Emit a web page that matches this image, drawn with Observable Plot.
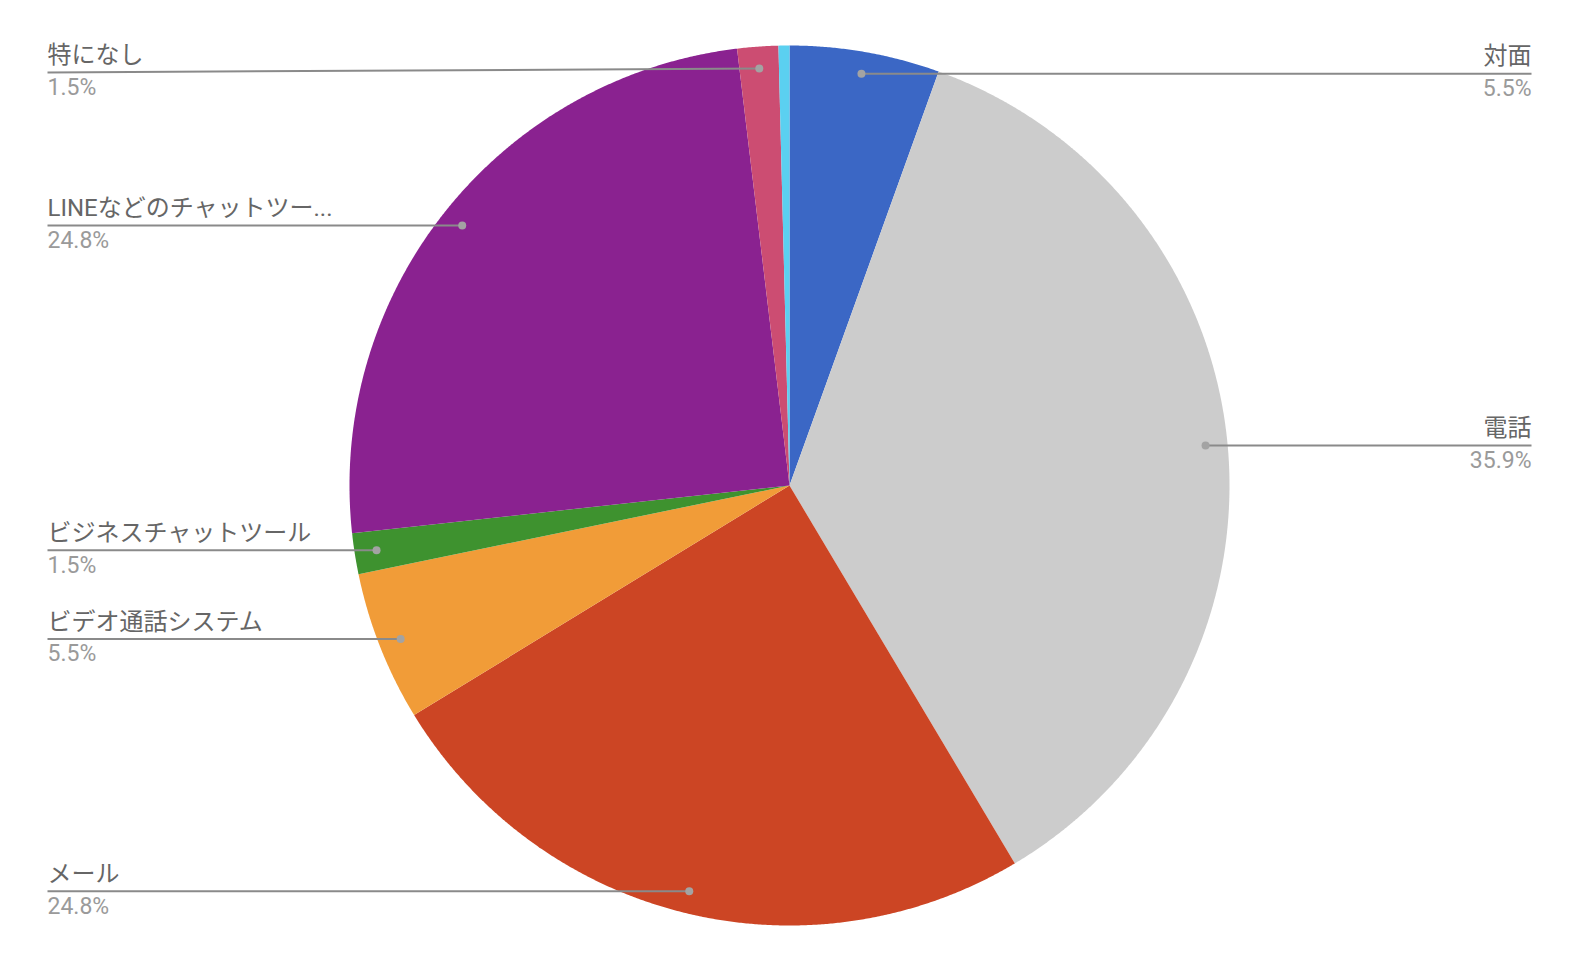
<!DOCTYPE html>
<html><head><meta charset="utf-8">
<script src="https://cdn.jsdelivr.net/npm/d3@7"></script>
<script src="https://cdn.jsdelivr.net/npm/@observablehq/plot@0.6"></script>
<style>html,body{margin:0;padding:0;background:#fff}</style>
</head><body><div id="chart"></div>
<script>
// ---- data ----
const categories = ["対面","電話","メール","ビデオ通話システム","ビジネスチャットツール","LINEなどのチャットツール","特になし","その他"];
const labelTexts = ["対面","電話","メール","ビデオ通話システム","ビジネスチャットツール","LINEなどのチャットツー...","特になし",""];
const values = [5.5, 35.9, 24.8, 5.5, 1.5, 24.8, 1.5, 0.4];
const colors = ["#3b67c5","#cccccc","#cc4524","#f19c38","#3e922f","#8a2290","#cc4d72","#5bd0f0"];
const showLabel = [true,true,true,true,true,true,true,false];

// ---- layout ----
const W = 1578, H = 968, cx = 789, cy = 485, R = 440;
const leftX = 47, rightX = 1531, dotFrac = 0.95, minLabelY = 72;
const font = "Roboto, 'Noto Sans CJK JP', sans-serif";

const arcs = d3.pie().sort(null).value(d => d)(values);
const slicePts = [];
arcs.forEach((a, i) => {
  slicePts.push({k: i, x: 0, y: 0});
  const n = Math.max(2, Math.ceil((a.endAngle - a.startAngle) / 0.004));
  for (let j = 0; j <= n; j++) {
    const t = a.startAngle + (a.endAngle - a.startAngle) * j / n;
    slicePts.push({k: i, x: Math.sin(t), y: Math.cos(t)});
  }
  slicePts.push({k: i, x: 0, y: 0});
});

const labels = [];
arcs.forEach((a, i) => {
  if (!showLabel[i]) return;
  const m = (a.startAngle + a.endAngle) / 2;
  const dx = Math.sin(m) * dotFrac, dy = Math.cos(m) * dotFrac;
  const dotPy = cy - dy * R;
  const lyPx = Math.max(dotPy, minLabelY);
  const right = Math.sin(m) >= 0;
  labels.push({
    name: labelTexts[i],
    pct: values[i].toFixed(1) + "%",
    dx, dy,
    ex: ((right ? rightX : leftX) - cx) / R,
    ly: (cy - lyPx) / R,
    right
  });
});
const L = labels.filter(d => !d.right), Rt = labels.filter(d => d.right);

const chart = Plot.plot({
  width: W, height: H, margin: 0,
  style: {fontFamily: font, background: "#fff"},
  x: {domain: [-1, 1], range: [cx - R, cx + R], axis: null},
  y: {domain: [-1, 1], range: [cy + R, cy - R], axis: null},
  color: {type: "identity"},
  marks: [
    Plot.line(slicePts, {x: "x", y: "y", z: "k", fill: d => colors[d.k], stroke: "none"}),
    Plot.link(labels, {x1: "dx", y1: "dy", x2: "ex", y2: "ly", stroke: "#8a8a8a", strokeWidth: 2}),
    Plot.dot(labels, {x: "dx", y: "dy", r: 4, fill: "#a3a3a3", stroke: "none"}),
    Plot.text(L, {x: "ex", y: "ly", text: "name", textAnchor: "start", dy: -17, fontSize: 24, fill: "#666666"}),
    Plot.text(L, {x: "ex", y: "ly", text: "pct", textAnchor: "start", dy: 15, fontSize: 23, fill: "#9a9a9a"}),
    Plot.text(Rt, {x: "ex", y: "ly", text: "name", textAnchor: "end", dy: -17, fontSize: 24, fill: "#666666"}),
    Plot.text(Rt, {x: "ex", y: "ly", text: "pct", textAnchor: "end", dy: 15, fontSize: 23, fill: "#9a9a9a"})
  ]
});
document.getElementById("chart").appendChild(chart);
</script>
</body></html>
